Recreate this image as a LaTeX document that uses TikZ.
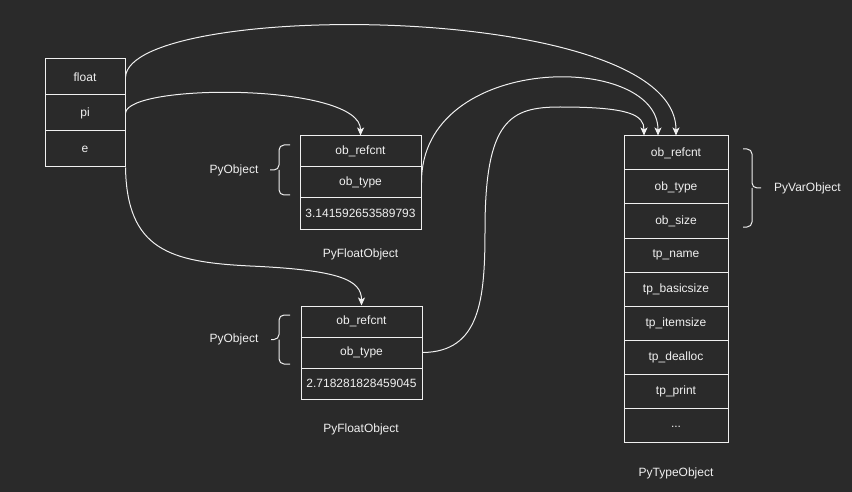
\documentclass[tikz,border=0pt]{standalone}
\usepackage{fontspec}
\setmainfont{Liberation Sans}
\usetikzlibrary{arrows.meta}
\definecolor{bg}{HTML}{2A2A2A}
\definecolor{fg}{HTML}{F0F0F0}
\begin{document}
\begin{tikzpicture}[x=1pt,y=-1pt,
  cell/.style={draw=fg, line width=1pt, text=fg, inner sep=0pt, font=\fontsize{12}{14}\selectfont},
  lcell/.style={cell, minimum width=80pt, minimum height=36pt},
  fcell/.style={cell, minimum width=121pt, minimum height=31pt},
  tcell/.style={cell, minimum width=104pt, minimum height=34pt},
  lbl/.style={text=fg, inner sep=0pt, font=\fontsize{12}{14}\selectfont},
  conn/.style={draw=fg, line width=1pt, -{Stealth[length=8pt,width=7pt,inset=2pt]}},
  brace/.style={draw=fg, line width=1pt, rounded corners=5pt}]
\fill[bg] (0,0) rectangle (852,492);
\useasboundingbox (0,0) rectangle (852,492);

% variables
\node[lcell] (float) at (85,77) {float};
\node[lcell] (pi) at (85,113) {pi};
\node[lcell] (e) at (85,149) {e};

% PyFloatObject 1
\node[fcell] (a1) at (360.5,151.5) {ob\_refcnt};
\node[fcell] (a2) at (360.5,182.5) {ob\_type};
\node[fcell] (a3) at (360.5,213.5) {3.141592653589793};
\node[lbl] (la) at (360.5,254) {PyFloatObject};
\node[lbl] (pa) at (234,170) {PyObject};
\draw[brace] (290,145) -- (279,145) -- (279,170) -- (270,170);
\draw[brace] (279,170) -- (279,195) -- (290,195);

% PyFloatObject 2
\node[fcell] (b1) at (361.5,321.5) {ob\_refcnt};
\node[fcell] (b2) at (361.5,352.5) {ob\_type};
\node[fcell] (b3) at (361.5,383.5) {2.718281828459045};
\node[lbl] (lb) at (361,429) {PyFloatObject};
\node[lbl] (pb) at (234,339) {PyObject};
\draw[brace] (290,315) -- (279,315) -- (279,339.5) -- (271,339.5);
\draw[brace] (279,339.5) -- (279,364) -- (290,364);

% PyTypeObject
\node[tcell] (t1) at (676,153) {ob\_refcnt};
\node[tcell] (t2) at (676,187) {ob\_type};
\node[tcell] (t3) at (676,221) {ob\_size};
\node[tcell] (t4) at (676,255) {tp\_name};
\node[tcell] (t5) at (676,289) {tp\_basicsize};
\node[tcell] (t6) at (676,323) {tp\_itemsize};
\node[tcell] (t7) at (676,357) {tp\_dealloc};
\node[tcell] (t8) at (676,391) {tp\_print};
\node[tcell] (t9) at (676,425) {\vphantom{Ag}...};
\node[lbl] (lt) at (676,473) {PyTypeObject};
\node[lbl, anchor=west] (pv) at (774,188) {PyVarObject};
\draw[brace] (743,149) -- (752,149) -- (752,188) -- (761,188);
\draw[brace] (752,188) -- (752,227) -- (743,227);

% connectors
\draw[conn] (float.east) .. controls (130,0) and (676,0) .. (t1.north);
\draw[conn] (pi.east) .. controls (128,83) and (361,83) .. (a1.north);
\draw[conn] (e.south east) .. controls (127,250) and (170,262) .. (250,266)
  .. controls (340,270) and (361.5,280) .. (b1.north);
\draw[conn] (a2.east) .. controls (421,52) and (658,52) .. ([xshift=-18pt]t1.north);
\draw[conn] (b2.east) .. controls (480,352) and (485,300) .. (485,230)
  .. controls (485,120) and (510,107) .. (560,107)
  .. controls (630,107) and (644,115) .. ([xshift=-32pt]t1.north);
\end{tikzpicture}
\end{document}
